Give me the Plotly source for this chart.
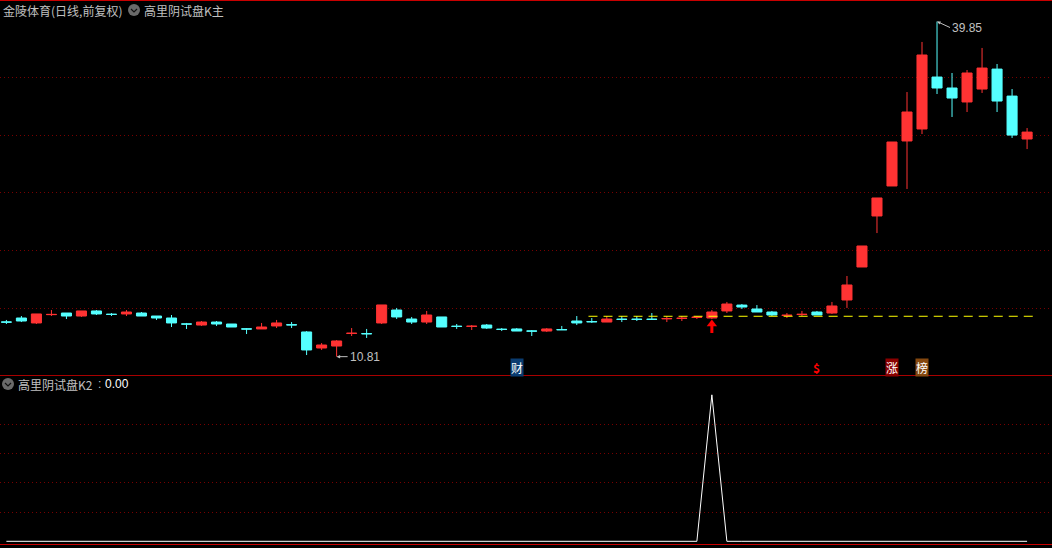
import plotly.graph_objects as go

opens = [13.82,14.16,13.73,14.45,14.59,14.33,14.77,14.49,14.51,14.59,14.33,14.16,13.65,13.55,13.81,13.64,13.22,13.21,13.47,13.58,
         12.95,11.56,11.73,12.82,12.81,13.73,14.85,14.07,13.81,14.25,13.45,13.43,13.55,13.19,13.21,13.04,13.03,13.16,13.90,13.85,
         13.81,14.06,14.06,14.06,14.09,14.12,14.21,14.16,14.77,15.28,14.94,14.68,14.38,14.46,14.68,14.59,15.72,18.58,23.00,25.60,
         29.50,30.54,35.04,34.09,32.88,34.00,35.73,33.39,29.67]
highs = [13.99,14.33,14.51,14.85,14.59,14.77,14.85,14.59,14.85,14.68,14.33,14.42,13.73,13.90,13.90,13.64,13.29,13.73,13.99,13.81,
         13.03,11.99,12.25,13.29,13.21,15.29,15.03,14.25,14.77,14.25,13.64,13.55,13.64,13.29,13.29,13.12,13.29,13.47,14.33,14.16,
         14.33,14.33,14.33,14.59,14.33,14.33,14.30,14.85,15.55,15.37,15.28,14.77,14.59,14.77,14.77,15.55,17.80,20.40,24.56,29.41,
         33.74,38.08,39.85,35.39,35.65,37.56,36.17,34.00,30.62]
lows = [13.64,13.81,13.64,14.33,14.07,14.25,14.42,14.33,14.33,14.33,13.99,13.38,13.21,13.47,13.47,13.38,12.77,13.21,13.29,13.29,
        10.95,11.39,10.81,12.60,12.43,13.64,14.07,13.64,13.64,13.38,13.21,13.12,13.21,13.03,13.03,12.60,12.95,13.12,13.55,13.73,
        13.81,13.81,13.90,13.99,13.81,13.90,14.07,14.07,14.59,14.94,14.68,14.33,14.16,14.33,14.42,14.51,15.03,18.58,21.52,25.60,
        25.34,30.10,33.57,31.58,32.01,33.66,32.01,29.76,28.80]
closes = [13.80,13.90,14.51,14.47,14.33,14.77,14.51,14.47,14.68,14.33,14.16,13.73,13.63,13.81,13.64,13.38,13.20,13.38,13.73,13.56,
          11.39,11.82,12.17,12.84,12.79,15.29,14.25,13.81,14.42,13.38,13.43,13.45,13.29,13.17,13.03,13.02,13.21,13.14,13.73,13.83,
          14.07,14.04,14.04,14.04,14.11,14.14,14.23,14.68,15.37,15.11,14.68,14.42,14.40,14.48,14.42,15.20,17.02,20.40,24.56,29.41,
          32.01,36.95,34.09,33.22,35.39,35.82,32.96,30.01,30.27]
dates = list(range(len(closes)))

# constant dashed support level, one dash per bar from bar 39 on
level_bars = list(range(39, 69))
level_values = [14.31] * len(level_bars)

# indicator K2: zero everywhere except one spike
k2_values = [0] * 47 + [1] + [0] * 21

price_ticks = [15, 20, 25, 30, 35]
k2_ticks = [0.2, 0.4, 0.6, 0.8]
high_label, low_label = 39.85, 10.81
high_bar, low_bar = 62, 22
signal_bars = [47]
signal_prices = [13.64]
marker_price = 9.87
title_main = "金陵体育(日线,前复权)"
title_ind = "高里阴试盘K主"
title_k2 = "高里阴试盘K2"

W, H = 1052, 548
split = (H - 375.5) / H
GRID = "#780000"
SEP = "#a80000"
RED = "#ff3333"
CYAN = "#55ffff"
TXT = "#c0c0c0"

fig = go.Figure()
fig.add_trace(go.Candlestick(
    x=dates, open=opens, high=highs, low=lows, close=closes, xaxis="x", yaxis="y",
    increasing=dict(line=dict(color=RED, width=1), fillcolor=RED),
    decreasing=dict(line=dict(color=CYAN, width=1), fillcolor=CYAN),
    whiskerwidth=0, hoverinfo="skip", showlegend=False))
fig.add_trace(go.Scatter(
    x=level_bars, y=level_values, mode="markers", xaxis="x", yaxis="y",
    marker=dict(size=1, color="rgba(0,0,0,0)"),
    error_x=dict(type="data", symmetric=False, array=[0.38] * len(level_bars),
                 arrayminus=[0.22] * len(level_bars), color="#ffff00", thickness=1, width=0),
    hoverinfo="skip", showlegend=False))
fig.add_trace(go.Scatter(
    x=signal_bars, y=signal_prices, mode="markers", xaxis="x", yaxis="y",
    marker=dict(symbol="triangle-up", size=9, color="#ff0000", line=dict(width=0)),
    error_y=dict(type="data", symmetric=False, array=[0], arrayminus=[0.78], color="#ff0000", thickness=3, width=0),
    hoverinfo="skip", showlegend=False))
fig.add_trace(go.Scatter(
    x=dates, y=k2_values, mode="lines", xaxis="x2", yaxis="y2",
    line=dict(color="#ffffff", width=1), hoverinfo="skip", showlegend=False))


def ann(text, px, py, color=TXT, size=12, anchor="left", bg=None, family="Noto Sans CJK SC"):
    return dict(text=text, xref="paper", yref="paper", x=px / W, y=1 - py / H, showarrow=False,
                xanchor=anchor, yanchor="middle", font=dict(color=color, size=size, family=family),
                bgcolor=bg, borderpad=0)


def badge(text, bar, color, bg):
    return dict(text=text, xref="x", yref="y", x=bar, y=marker_price, showarrow=False,
                xanchor="center", yanchor="middle", bgcolor=bg, borderpad=0,
                font=dict(color=color, size=12, family="Noto Sans CJK SC"))


annotations = [
    ann(title_main, 2, 10),
    ann(title_ind, 143, 10),
    ann(title_k2, 17, 384),
    ann(": ", 97, 384, family="Liberation Sans"),
    ann("0.00", 104, 384, color="#ffffff", family="Liberation Sans"),
    badge("财", 34, "#ffffff", "#0a3c70"),
    badge("<b>$</b>", 54, "#ff0000", None),
    badge("涨", 59, "#ffffff", "#8a0000"),
    badge("榜", 61, "#ffffff", "#85480f"),
    dict(text=f"{high_label:.2f}", x=high_bar, y=high_label, xref="x", yref="y", xanchor="left", yanchor="middle",
         ax=13, ay=6, showarrow=True, arrowhead=2, arrowsize=0.7, arrowwidth=1, arrowcolor=TXT,
         font=dict(color=TXT, size=12, family="Liberation Sans")),
    dict(text=f"{low_label:.2f}", x=low_bar, y=low_label, xref="x", yref="y", xanchor="left", yanchor="middle",
         ax=11, ay=0, showarrow=True, arrowhead=2, arrowsize=0.7, arrowwidth=1, arrowcolor=TXT,
         font=dict(color=TXT, size=12, family="Liberation Sans")),
]


def chevron(cx, cy):
    return dict(type="path", xref="paper", yref="paper", line=dict(color="#111111", width=1.2),
                path=f"M {(cx-3)/W} {1-(cy-1)/H} L {cx/W} {1-(cy+2)/H} L {(cx+3)/W} {1-(cy-1)/H}")


def circle(cx, cy):
    return dict(type="circle", xref="paper", yref="paper", fillcolor="#6a6a6a", line=dict(width=0),
                x0=(cx-6)/W, x1=(cx+6)/W, y0=1-(cy+6)/H, y1=1-(cy-6)/H)


def hline(py, width=1, color=SEP):
    return dict(type="line", xref="paper", yref="paper", x0=0, x1=1, y0=1 - py / H, y1=1 - py / H,
                line=dict(color=color, width=width))


shapes = [hline(0.5, 1, "#c80000"), hline(375.5), hline(544.5, 1, "#c80000"),
          circle(134, 10), chevron(134, 10), circle(8, 384), chevron(8, 384)]

x_range = [-6.4 / 15.01, (W - 6.4) / 15.01]
common_x = dict(range=x_range, showgrid=False, showticklabels=False, zeroline=False, showline=False,
                ticks="", fixedrange=True, rangeslider=dict(visible=False))
common_y = dict(showgrid=True, gridcolor=GRID, gridwidth=1, griddash="1px,3px", showticklabels=False,
                zeroline=False, showline=False, ticks="", fixedrange=True)

fig.update_layout(
    width=W, height=H, autosize=False,
    margin=dict(l=0, r=0, t=0, b=0, pad=0),
    paper_bgcolor="#000000", plot_bgcolor="#000000",
    boxgap=0.33, boxgroupgap=0,
    xaxis=dict(anchor="y", **common_x),
    xaxis2=dict(anchor="y2", **common_x),
    yaxis=dict(domain=[split, 1], range=[9.177, 41.716], tickmode="array", tickvals=price_ticks, **common_y),
    yaxis2=dict(domain=[0, split], range=[-0.0457, 1.132], tickmode="array", tickvals=k2_ticks, **common_y),
    annotations=annotations, shapes=shapes, showlegend=False)

fig.write_html("out.html", config=dict(displayModeBar=False),
               post_script="document.body.style.margin='0';document.body.style.background='#000';")
